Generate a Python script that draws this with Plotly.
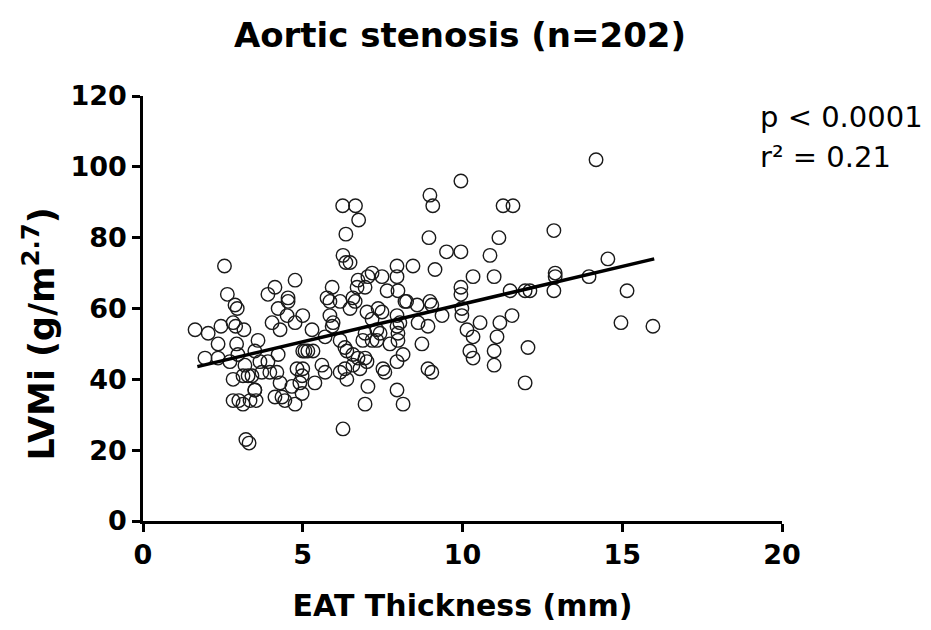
import plotly.graph_objects as go

# EAT thickness (mm) and LVMi (g/m^2.7)
eat_mm = [
    2.55, 2.64, 2.88, 2.95, 1.63, 2.04, 2.44, 2.35, 1.94, 2.35, 2.72, 2.93, 2.82, 2.90, 3.16,
    2.97, 3.19, 2.82, 3.13, 3.29, 2.82, 3.00, 3.13, 3.35, 3.54, 3.22, 3.32, 3.60, 3.50,
    6.26, 6.35, 4.76, 4.13, 3.91, 4.54, 4.54, 4.23, 4.51, 5.00, 4.04, 4.76, 4.29, 5.29,
    5.92, 5.76, 5.85, 6.17, 6.48, 5.85, 5.95, 5.92, 5.70, 6.17, 6.32, 6.38, 3.50,
    4.23, 5.00, 5.07, 5.16, 5.32, 3.66, 3.91, 3.72, 3.97, 4.19, 4.82, 5.00, 4.98, 5.60, 5.70,
    6.17, 6.32, 6.38, 3.41, 3.50, 4.13, 4.35, 4.44, 4.76, 4.29, 4.66, 4.91, 4.98, 5.38, 6.26,
    8.98, 9.07, 6.25, 6.65, 6.75, 6.35, 8.95, 9.50, 6.48, 8.45, 7.95, 9.14, 7.95, 7.48, 7.17,
    7.04, 6.73, 6.70, 6.95, 7.64, 7.98, 6.57, 6.64, 8.20, 8.25, 8.58, 8.98, 9.04, 7.36, 7.48,
    7.01, 7.95, 9.36, 8.61, 8.92, 8.04, 7.17, 6.95, 7.32, 7.42, 7.95, 7.98, 6.88, 7.17, 7.32,
    7.73, 7.98, 8.73, 6.57, 6.73, 6.95, 7.01, 6.57, 6.79, 7.51, 7.57, 8.14, 7.95, 8.92, 9.04,
    7.04, 7.95, 6.95, 8.14,
    9.95, 11.27, 11.58, 12.86, 11.14, 9.95, 10.86, 10.33, 10.99, 12.90, 12.90, 9.95, 9.95,
    11.49, 11.96, 12.11, 12.86, 9.98, 9.98, 10.55, 11.17, 11.55, 10.14, 10.33, 11.08, 10.23,
    10.33, 10.99, 10.99, 12.05, 11.96,
    14.18, 14.55, 13.96, 15.15, 14.96, 15.96,
]
lvmi = [
    72, 64, 61, 60, 54, 53, 55, 50, 46, 46, 45, 50, 56, 55, 54,
    47, 44, 40, 41, 41, 34, 34, 33, 34, 34, 23, 22, 51, 48,
    75, 73, 68, 66, 64, 63, 62, 60, 58, 58, 56, 56, 54, 54,
    66, 63, 62, 62, 60, 58, 56, 55, 52, 51, 49, 48, 37,
    47, 48, 48, 48, 48, 45, 45, 42, 42, 42, 43, 43, 41, 44, 42,
    42, 43, 40, 41, 37, 35, 35, 34, 33, 39, 38, 39, 36, 39, 26,
    92, 89, 89, 89, 85, 81, 80, 76, 73, 72, 72, 71, 69, 69, 70,
    69, 68, 66, 66, 65, 65, 63, 62, 62, 62, 61, 62, 61, 60, 59,
    59, 58, 58, 56, 55, 56, 57, 53, 54, 53, 55, 53, 51, 51, 51,
    50, 51, 50, 47, 46, 46, 45, 44, 43, 43, 42, 47, 45, 43, 42,
    38, 37, 33, 33,
    96, 89, 89, 82, 80, 76, 75, 69, 69, 70, 69, 66, 64,
    65, 65, 65, 65, 60, 58, 56, 56, 58, 54, 52, 52, 48,
    46, 48, 44, 49, 39,
    102, 74, 69, 65, 56, 55,
]

# regression line end points
fit_x = [1.7, 16.0]
fit_y = [43.6, 74.0]

x_ticks = [0, 5, 10, 15, 20]
y_ticks = [0, 20, 40, 60, 80, 100, 120]

title_text = "Aortic stenosis (n=202)"
x_title = "EAT Thickness (mm)"
y_title = "LVMi (g/m<sup>2.7</sup>)"
stats_lines = ["p < 0.0001", "r² = 0.21"]

bold_font = "DejaVu Sans"

fig = go.Figure()
fig.add_trace(go.Scatter(
    x=eat_mm, y=lvmi, mode="markers",
    marker=dict(symbol="circle-open", size=13.5, color="#1a1a1a", line=dict(width=1.4)),
    showlegend=False, hoverinfo="x+y",
))
fig.add_trace(go.Scatter(
    x=fit_x, y=fit_y, mode="lines",
    line=dict(color="black", width=3.5),
    showlegend=False,
))

axis_common = dict(
    showline=True, linecolor="black", linewidth=2.5,
    ticks="outside", ticklen=8, tickwidth=2.5, tickcolor="black",
    showgrid=False, zeroline=False,
    tickfont=dict(family=bold_font, size=27, color="black", weight="bold"),
)

fig.update_layout(
    width=931, height=630,
    margin=dict(l=135, r=157, t=88, b=117),
    plot_bgcolor="white", paper_bgcolor="white",
    title=dict(
        text="<b>" + title_text + "</b>", x=0.4855, xanchor="center", y=0.957, yanchor="middle",
        font=dict(family=bold_font, size=34, color="black"),
    ),
    xaxis=dict(
        range=[0, 20], tickvals=x_ticks, ticktext=[str(v) for v in x_ticks],
        title=dict(text="<b>" + x_title + "</b>", standoff=26,
                   font=dict(family=bold_font, size=30, color="black")),
        **axis_common,
    ),
    yaxis=dict(
        range=[0, 120], tickvals=y_ticks, ticktext=[str(v) for v in y_ticks],
        **axis_common,
    ),
    annotations=[
        dict(text="<b>" + y_title + "</b>", xref="paper", yref="paper",
             x=-0.162, y=0.44, xanchor="center", yanchor="middle", textangle=-90,
             showarrow=False, font=dict(family=bold_font, size=35, color="black")),
        dict(text=stats_lines[0], xref="paper", yref="paper", x=0.962, y=0.951,
             xanchor="left", yanchor="middle", showarrow=False, align="left",
             font=dict(family="DejaVu Sans", size=29, color="black")),
        dict(text=stats_lines[1], xref="paper", yref="paper", x=0.962, y=0.856,
             xanchor="left", yanchor="middle", showarrow=False, align="left",
             font=dict(family="DejaVu Sans", size=29, color="black")),
    ],
)

fig.write_html("out.html")
